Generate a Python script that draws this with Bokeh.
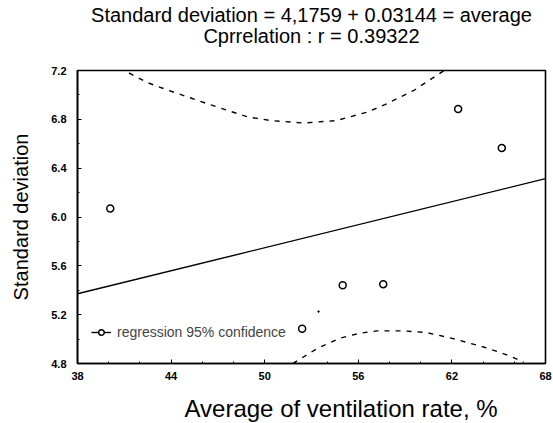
from bokeh.plotting import figure
from bokeh.models import (FixedTicker, PrintfTickFormatter, Legend, LegendItem,
                          Range1d, Title)
from bokeh.embed import file_html
from bokeh.resources import INLINE

# ---- data ----
obs_x = [40.1, 52.4, 55.0, 57.6, 62.4, 65.2]
obs_y = [6.07, 5.085, 5.44, 5.45, 6.885, 6.565]

speck_x = [53.45]
speck_y = [5.225]

reg_x = [38, 68]
reg_y = [5.371, 6.314]

upper_x = [41.3, 42.5, 44.0, 46.5, 48.9, 50.4, 52.5, 54.6, 56.6, 57.7, 59.6, 61.5]
upper_y = [7.18, 7.10, 7.03, 6.92, 6.82, 6.79, 6.77, 6.79, 6.86, 6.92, 7.04, 7.20]

lower_x = [51.8, 53.4, 54.8, 56.1, 57.2, 58.9, 60.4, 62.2, 64.3, 65.7, 66.6]
lower_y = [4.80, 4.925, 5.007, 5.048, 5.067, 5.067, 5.053, 5.00, 4.925, 4.862, 4.81]

x_ticks = [38, 44, 50, 56, 62, 68]
x_minor = [40, 42, 46, 48, 52, 54, 58, 60, 64, 66]
y_ticks = [4.8, 5.2, 5.6, 6.0, 6.4, 6.8, 7.2]
y_minor = [5.0, 5.4, 5.8, 6.2, 6.6, 7.0]

title_1 = "Standard deviation = 4,1759 + 0.03144 = average"
title_2 = "Cprrelation : r = 0.39322"
x_label = "Average of ventilation rate, %"
y_label = "Standard deviation"
legend_label = "regression 95% confidence"

FONT = "Liberation Sans"

p = figure(width=553, height=423, x_range=Range1d(38, 68), y_range=Range1d(4.8, 7.2),
           output_backend="svg", toolbar_location=None,
           min_border_left=77, min_border_right=8, min_border_top=70, min_border_bottom=60)
p.grid.visible = False
p.outline_line_color = "black"
p.outline_line_width = 1.6
p.background_fill_color = "white"
p.border_fill_color = "white"

for ax in (p.xaxis[0], p.yaxis[0]):
    ax.axis_line_width = 1.6
    ax.major_tick_in = 4
    ax.major_tick_out = 0
    ax.minor_tick_in = 2
    ax.minor_tick_out = 0
    ax.major_label_text_font = FONT
    ax.major_label_text_font_size = "11px"
    ax.major_label_text_font_style = "bold"
    ax.major_label_text_color = "black"

p.xaxis.ticker = FixedTicker(ticks=x_ticks, minor_ticks=x_minor)
p.yaxis.ticker = FixedTicker(ticks=y_ticks, minor_ticks=y_minor)
p.yaxis.formatter = PrintfTickFormatter(format="%.1f")
p.xaxis.major_label_standoff = 8
p.yaxis.major_label_standoff = 11

p.yaxis.axis_label = y_label
p.yaxis.axis_label_text_font = FONT
p.yaxis.axis_label_text_font_size = "20px"
p.yaxis.axis_label_text_font_style = "normal"
p.yaxis.axis_label_text_color = "black"
p.yaxis.axis_label_standoff = 16

# confidence bands
p.line(upper_x, upper_y, line_color="black", line_width=1.4, line_dash="5 6")
p.line(lower_x, lower_y, line_color="black", line_width=1.4, line_dash="5 6")
# regression line
reg = p.line(reg_x, reg_y, line_color="black", line_width=1.4)
# observations
pts = p.scatter(obs_x, obs_y, marker="circle", size=7, line_color="black", line_width=1.5,
                fill_color="white")
p.scatter(speck_x, speck_y, marker="circle", size=1.5, line_color="black", fill_color="black")

# legend
legend = Legend(items=[LegendItem(label=legend_label, renderers=[reg, pts])],
                location=(14, 23), padding=0, margin=0, glyph_width=20, glyph_height=14,
                label_standoff=6, label_text_font=FONT, label_text_font_size="14px",
                background_fill_alpha=0, border_line_alpha=0)
p.add_layout(legend)

# titles (first added sits nearest the frame)
p.add_layout(Title(text=title_2 + "\n ", align="center", text_font=FONT,
                   text_font_size="20px", text_font_style="normal", text_color="black",
                   text_line_height=1.0, standoff=3), "above")
p.add_layout(Title(text=title_1, align="center", text_font=FONT, text_font_size="20px",
                   text_font_style="normal", text_color="black", standoff=-9.5), "above")
# x axis label, shifted right as in the reference
p.add_layout(Title(text=" \n" + x_label, align="left", offset=107, text_font=FONT,
                   text_font_size="24px", text_font_style="normal", text_color="black",
                   text_line_height=1.0, standoff=-33), "below")

open("out.html", "w").write(file_html(p, INLINE))
